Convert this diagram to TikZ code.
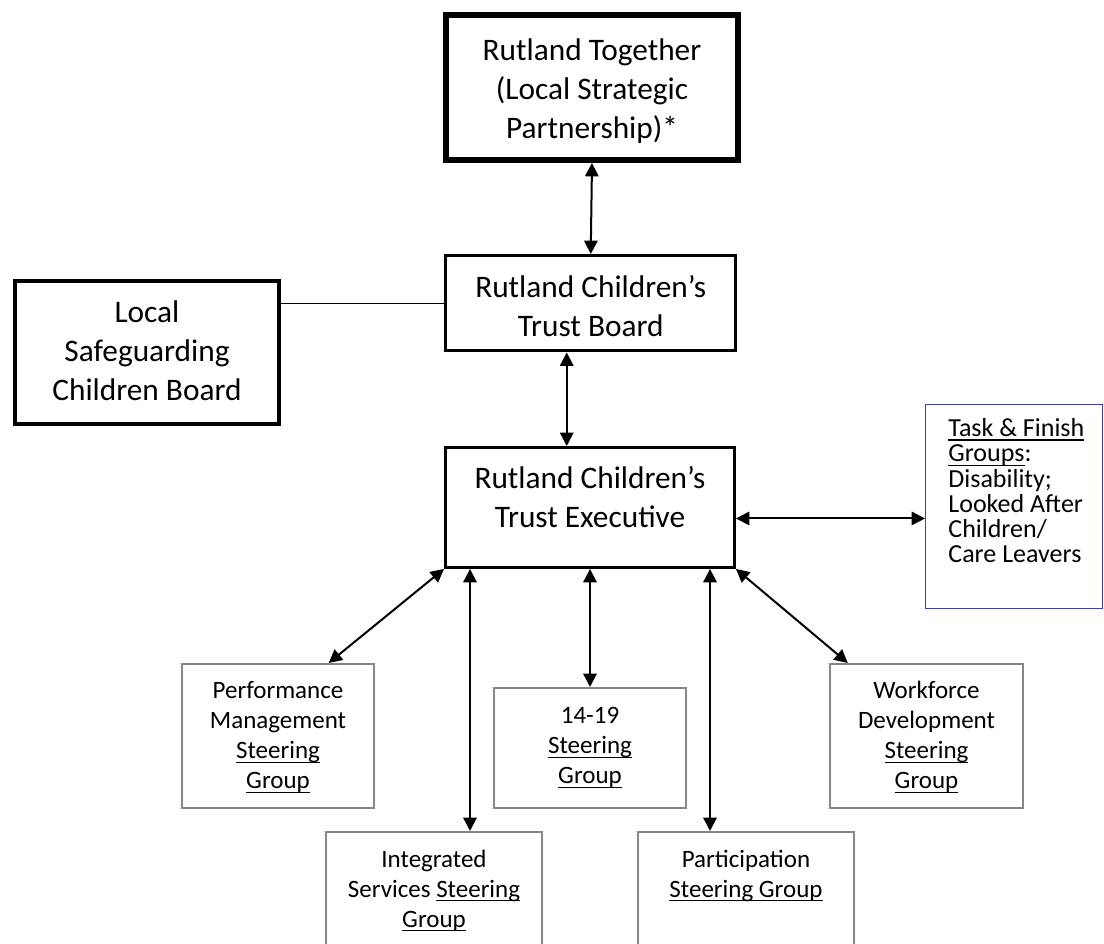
\documentclass[tikz,border=0pt]{standalone}
\usepackage{fontspec}
\setmainfont{Carlito}
\usetikzlibrary{arrows.meta}

\newlength{\pxu}
\setlength{\pxu}{0.75pt}
% box text: [alignment]{width}{height}{first baseline}{text}, sizes in px
\newcommand{\orgtext}[5][\centering]{\parbox[t][#3\pxu][t]{#2\pxu}{#1\rule{0pt}{#4\pxu}#5}}
% underlined words
\newsavebox{\ulnbox}
\newcommand{\uln}[1]{\leavevmode\sbox{\ulnbox}{#1}\rlap{\rule[-3.2pt]{\wd\ulnbox}{1.2pt}}\usebox{\ulnbox}}

\tikzset{every picture/.style={line width=0.75pt}}
\tikzset{
	orgbox/.style={draw, inner sep=0pt, anchor=north west},
	bigbox/.style={orgbox, font=\fontsize{23.5}{29.25}\selectfont},
	steerbox/.style={orgbox, draw={rgb, 255:red, 134; green, 134; blue, 134}, line width=1.5pt, font=\fontsize{18.75}{22.5}\selectfont},
	taskbox/.style={orgbox, draw={rgb, 255:red, 64; green, 64; blue, 160}, line width=1.1pt, font=\fontsize{19.5}{18.9}\selectfont},
	link/.style={{Triangle[length=10pt,width=10pt]}-{Triangle[length=10pt,width=10pt]}, line width=1.5pt}}

\begin{document}
\begin{tikzpicture}[x=0.75pt,y=0.75pt,yscale=-1,xscale=1]
	\useasboundingbox (0,0) rectangle (1104,944);
	\clip (0,0) rectangle (1104,944);
	
	%Shape: Rectangle [id:together]
	\node [bigbox, line width=4.5pt] (together) at (443,12) {\orgtext{292}{145}{46}{Rutland Together\\(Local Strategic\\Partnership)*}};
	%Shape: Rectangle [id:board]
	\node [bigbox, line width=2.6pt] (board) at (444,254) {\orgtext{290}{95}{42}{Rutland Children’s\\Trust Board}};
	%Shape: Rectangle [id:lscb]
	\node [bigbox, line width=3pt] (lscb) at (13,279) {\orgtext{264}{143}{42}{Local\\Safeguarding\\Children Board}};
	%Shape: Rectangle [id:exec]
	\node [bigbox, line width=2.2pt] (exec) at (444,446) {\orgtext{289}{120}{41}{Rutland Children’s\\Trust Executive}};
	%Shape: Rectangle [id:task]
	\node [taskbox] (task) at (925,404) {\orgtext[\raggedright\leftskip=17pt]{177}{204}{32}{\uln{Task \& Finish}\\\uln{Groups}:\\Disability;\\Looked After\\Children/\\Care Leavers}};
	
	%Shape: Rectangle [id:pm]
	\node [steerbox] (pm) at (181,663) {\orgtext{192}{144}{35}{Performance\\Management\\\uln{Steering}\\\uln{Group}}};
	%Shape: Rectangle [id:ig]
	\node [steerbox] (ig) at (493,687) {\orgtext{192}{120}{36}{14-19\\\uln{Steering}\\\uln{Group}}};
	%Shape: Rectangle [id:wd]
	\node [steerbox] (wd) at (829,663) {\orgtext{193}{144}{35}{Workforce\\Development\\\uln{Steering}\\\uln{Group}}};
	%Shape: Rectangle [id:is]
	\node [steerbox] (is) at (325,831) {\orgtext{216}{118}{35}{Integrated\\Services \uln{Steering}\\\uln{Group}}};
	%Shape: Rectangle [id:part]
	\node [steerbox] (part) at (637,831) {\orgtext{216}{118}{35}{Participation\\\uln{Steering Group}}};
	
	%Straight Lines
	\coordinate (boardLow) at ([xshift=-18pt]board.south);
	\coordinate (execRight) at ([yshift=8.25pt]exec.east);
	\coordinate (pmTop) at ([xshift=38pt]pm.north);
	\coordinate (wdTop) at ([xshift=-59pt]wd.north);
	\coordinate (isTop) at ([xshift=27pt]is.north);
	\coordinate (partTop) at ([xshift=-27pt]part.north);
	
	\draw [link] (together.south) -- (board.north);
	\draw [link] (boardLow) -- (boardLow |- exec.north);
	\draw (lscb.east |- board.west) -- (board.west);
	\draw [link] (execRight) -- (execRight -| task.west);
	\draw [link] (exec.south west) -- (pmTop);
	\draw [link] (isTop |- exec.south) -- (isTop);
	\draw [link] (ig.north |- exec.south) -- (ig.north);
	\draw [link] (partTop |- exec.south) -- (partTop);
	\draw [link] (exec.south east) -- (wdTop);
	
\end{tikzpicture}
\end{document}
